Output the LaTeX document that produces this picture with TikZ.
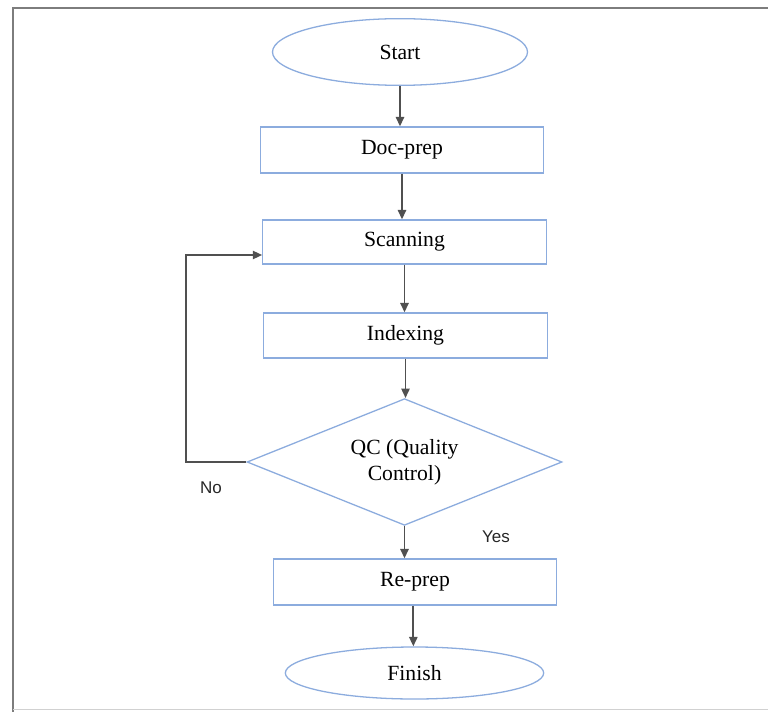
\documentclass[tikz,border=0pt]{standalone}
\usepackage{fontspec}
\setmainfont{Liberation Serif}
\newfontfamily\labelfont{Liberation Sans}
\usetikzlibrary{shapes.geometric,arrows.meta}

\definecolor{boxblue}{RGB}{140,172,222}
\definecolor{linegray}{RGB}{80,80,80}
\definecolor{framegray}{RGB}{125,125,125}

\tikzset{
  procbox/.style={draw=boxblue, line width=1.1pt, fill=white, rectangle,
    minimum width=8.5cm, minimum height=1.38cm, inner sep=0pt,
    font=\fontsize{18.5}{22}\selectfont},
  terminal/.style={draw=boxblue, line width=1.1pt, fill=white, ellipse,
    inner sep=0pt, font=\fontsize{18.5}{22}\selectfont},
  decision/.style={draw=boxblue, line width=1.1pt, fill=white, diamond,
    aspect=2.5, minimum width=9.45cm, minimum height=3.8cm, inner sep=0pt,
    align=center, font=\fontsize{18.5}{22}\selectfont},
  flow/.style={draw=linegray, line width=1.6pt,
    -{Triangle[length=8pt,width=7pt]}},
  branchlabel/.style={font=\labelfont\fontsize{14.5}{16}\selectfont, text=black!85},
}

\begin{document}
\begin{tikzpicture}[x=0.03cm,y=-0.03cm]
  \useasboundingbox (0,0) rectangle (768,712);

  % page frame
  \draw[framegray, line width=1.5pt] (768,8) -- (13,8) -- (13,712);
  \draw[black!18, line width=0.8pt] (13,709) -- (768,709);

  % process chain
  \node[terminal, minimum width=7.65cm, minimum height=2.0cm] (start) at (400,52) {Start};
  \node[procbox] (doc) at (402,150) {Doc-prep};
  \node[procbox, minimum height=1.32cm] (scan) at (404.5,242) {Scanning};
  \node[procbox, minimum height=1.35cm] (index) at (405.5,335.5) {Indexing};
  \node[decision] (qc) at (404.5,462) {QC (Quality\\Control)};
  \node[procbox] (reprep) at (415,582) {Re-prep};
  \node[terminal, minimum width=7.75cm, minimum height=1.56cm] (finish) at (414.5,673) {Finish};

  % loop-back corner column
  \coordinate (loopcol) at (186,255);

  % connectors
  \draw[flow] (start.south) -- (start.south |- doc.north);
  \draw[flow] (doc.south) -- (doc.south |- scan.north);
  \draw[flow] (scan.south) -- (scan.south |- index.north);
  \draw[flow] (index.south) -- (index.south |- qc.north);
  \draw[flow] (qc.south) -- (qc.south |- reprep.north);
  \draw[flow] ([xshift=-0.05cm]reprep.south) -- ([xshift=-0.05cm]reprep.south |- finish.north);
  \draw[flow] (qc.west) -- (qc.west -| loopcol) -- (loopcol) -- (loopcol -| scan.west);

  % branch labels
  \node[branchlabel] (no) at (211,488) {No};
  \node[branchlabel] (yes) at (496,537) {Yes};
\end{tikzpicture}
\end{document}
